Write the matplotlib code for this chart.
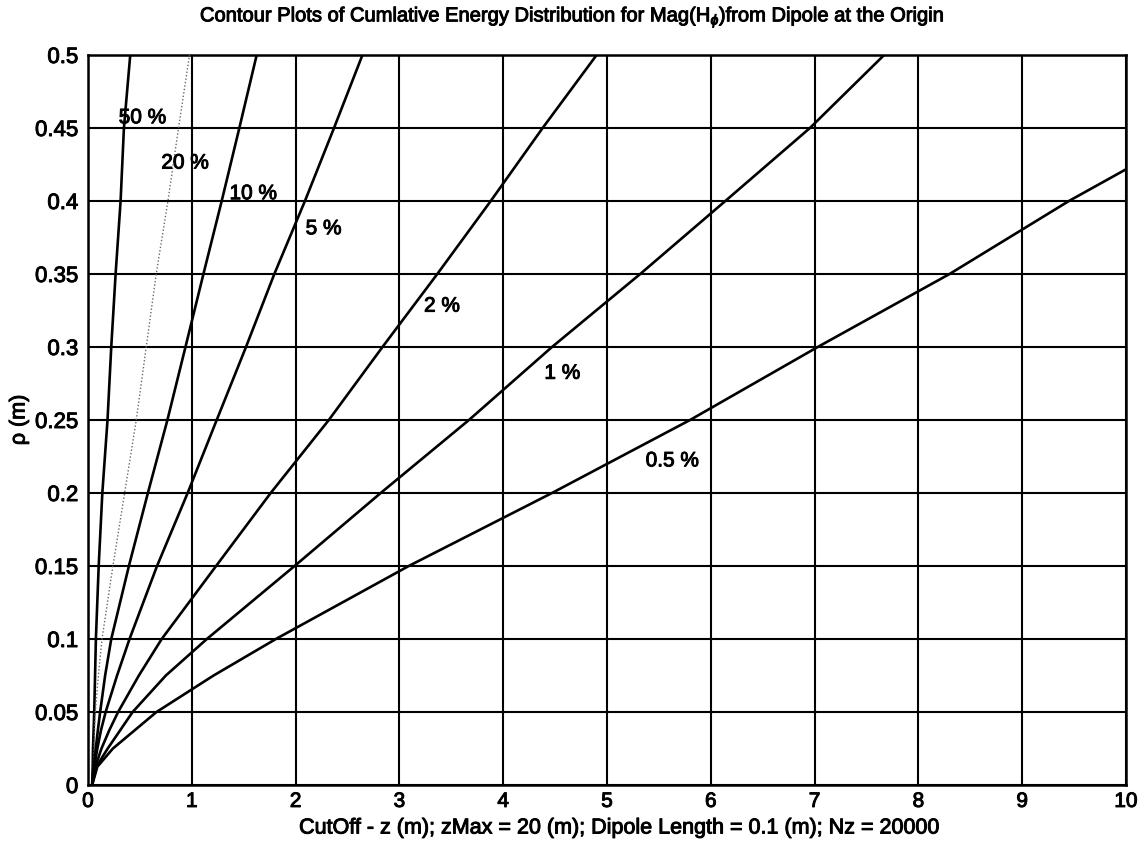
import matplotlib
matplotlib.use("Agg")
import matplotlib.pyplot as plt
import matplotlib.patheffects as pe

plt.rcParams['font.family'] = ['Liberation Sans', 'DejaVu Sans']
plt.rcParams['mathtext.fontset'] = 'custom'
plt.rcParams['mathtext.rm'] = 'Liberation Sans'
plt.rcParams['mathtext.it'] = 'Liberation Sans:italic'

# Contour levels (cumulative energy fraction) and their traced paths (z, rho)
levels = ["50 %", "20 %", "10 %", "5 %", "2 %", "1 %", "0.5 %"]

rho_pts = [0.0, 0.0125, 0.025, 0.0375, 0.05, 0.075, 0.1, 0.15, 0.2, 0.25,
           0.3, 0.35, 0.4, 0.45, 0.5]

z_50 = [0.04, 0.045, 0.048, 0.054, 0.060, 0.068, 0.076, 0.103, 0.138, 0.188,
        0.224, 0.266, 0.314, 0.346, 0.407]
z_20 = [0.04, 0.050, 0.058, 0.063, 0.070, 0.100, 0.135, 0.240, 0.353, 0.465,
        0.561, 0.657, 0.770, 0.872, 0.978]
z_10 = [0.04, 0.056, 0.075, 0.095, 0.117, 0.165, 0.224, 0.394, 0.577, 0.765,
        0.939, 1.112, 1.288, 1.458, 1.625]
z_5 = [0.04, 0.060, 0.090, 0.125, 0.170, 0.280, 0.400, 0.665, 0.960, 1.240,
       1.522, 1.795, 2.090, 2.370, 2.644]
z_2 = [0.04, 0.070, 0.130, 0.205, 0.290, 0.490, 0.710, 1.234, 1.760, 2.320,
       2.837, 3.365, 3.880, 4.380, 4.900]
z_1 = [0.04, 0.080, 0.190, 0.310, 0.430, 0.750, 1.145, 1.990, 2.820, 3.670,
       4.470, 5.320, 6.140, 6.955, 7.670]

rho_05 = [0.0, 0.0125, 0.025, 0.0375, 0.05, 0.075, 0.1, 0.15, 0.2, 0.25,
          0.3, 0.35, 0.4, 0.4217]
z_05 = [0.04, 0.090, 0.240, 0.450, 0.660, 1.210, 1.810, 3.090, 4.470, 5.800,
        7.030, 8.300, 9.450, 10.0]

# Inline label positions (z, rho) for each level
label_z = [0.526, 0.936, 1.593, 2.27, 3.41, 4.57, 5.63]
label_rho = [0.457, 0.426, 0.405, 0.381, 0.328, 0.282, 0.222]

x_ticks = list(range(0, 11))
y_ticks = [0, 0.05, 0.1, 0.15, 0.2, 0.25, 0.3, 0.35, 0.4, 0.45, 0.5]
y_tick_labels = ["0", "0.05", "0.1", "0.15", "0.2", "0.25", "0.3", "0.35", "0.4", "0.45", "0.5"]

heavy = [pe.withStroke(linewidth=0.7, foreground="black")]

W, H = 1144, 850
fig = plt.figure(figsize=(W / 100, H / 100), dpi=100)
ax = fig.add_axes([88 / W, 1 - 785 / H, (1126 - 88) / W, (785 - 55) / H])

paths = [(z_50, rho_pts), (z_20, rho_pts), (z_10, rho_pts), (z_5, rho_pts),
         (z_2, rho_pts), (z_1, rho_pts), (z_05, rho_05)]

for i, (zz, rr) in enumerate(paths):
    if levels[i] == "20 %":
        ax.plot(zz, rr, color="#6a6a6a", lw=1.0, ls=(0, (1, 1.5)), zorder=3)
    else:
        ax.plot(zz, rr, color="black", lw=1.9, zorder=3, solid_joinstyle="round")

for txt, lz, lr in zip(levels, label_z, label_rho):
    ax.text(lz, lr, txt, ha="center", va="center", fontsize=15, color="black",
            zorder=4, path_effects=heavy)

ax.set_xlim(0, 10)
ax.set_ylim(0, 0.5)
ax.set_xticks(x_ticks)
ax.set_xticklabels([str(v) for v in x_ticks])
ax.set_yticks(y_ticks)
ax.set_yticklabels(y_tick_labels)
ax.grid(True, color="black", lw=1.5, ls="-")
ax.set_axisbelow(True)
ax.tick_params(axis="y", direction="in", length=0, labelsize=16, pad=7)
ax.tick_params(axis="x", direction="in", length=0, labelsize=15, pad=5)
for lab in ax.get_xticklabels() + ax.get_yticklabels():
    lab.set_path_effects(heavy)
for s in ax.spines.values():
    s.set_linewidth(1.8)
    s.set_color("black")

fig.text(572 / W, 1 - 17 / H,
         r"Contour Plots of Cumlative Energy Distribution for Mag(H$_{\phi}$)from Dipole at the Origin",
         ha="center", va="center", fontsize=14.5, path_effects=heavy)
fig.text(619 / W, 1 - 828 / H,
         "CutOff - z (m); zMax = 20 (m); Dipole Length = 0.1 (m); Nz = 20000",
         ha="center", va="center", fontsize=15.5, path_effects=heavy)
fig.text(19 / W, 1 - 420 / H, "ρ (m)", ha="center", va="center", rotation=90,
         fontsize=15.5, path_effects=heavy)

fig.savefig("out.png", dpi=100)
